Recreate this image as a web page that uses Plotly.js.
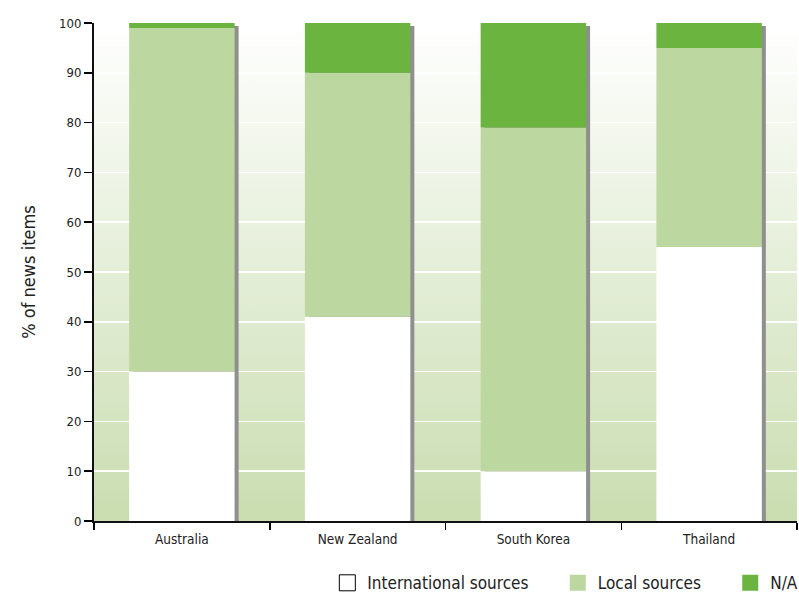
<!DOCTYPE html>
<html>
<head>
<meta charset="utf-8">
<script src="https://cdn.plot.ly/plotly-3.0.1.min.js"></script>
<style>
html,body{margin:0;padding:0;background:#fff;}
#chart{width:799px;height:593px;}
</style>
</head>
<body>
<div id="chart"></div>
<script>
const countries = ["Australia", "New Zealand", "South Korea", "Thailand"];
const international = [30, 41, 10, 55];
const local = [69, 49, 69, 40];
const na = [1, 10, 21, 5];
const seriesNames = ["International sources", "Local sources", "N/A"];
const yTicks = [0, 10, 20, 30, 40, 50, 60, 70, 80, 90, 100];

const FONT = '"DejaVu Sans Condensed", "Liberation Sans Narrow", "Liberation Sans", sans-serif';
const COL_INT = '#ffffff', COL_LOC = '#bdd7a1', COL_NA = '#6ab43f', COL_SH = '#8f8f8d';

const totals = countries.map((c, i) => international[i] + local[i] + na[i]);
const localBase = international.slice();
const naBase = countries.map((c, i) => international[i] + local[i]);

const W = 0.6;
const shadowDx = 4 / 175.75;   // 4px right
const shadowDy = 3 / 4.98;     // 3px down

const PAD = '\u00a0\u00a0\u00a0\u00a0\u00a0';

const traces = [
  { type: 'bar', x: countries, y: totals, base: countries.map(() => -shadowDy),
    width: W, offset: -W / 2 + shadowDx, marker: { color: COL_SH }, showlegend: false, hoverinfo: 'skip' },
  { type: 'bar', x: countries, y: international, base: countries.map(() => 0),
    width: W, offset: -W / 2, marker: { color: COL_INT }, name: seriesNames[0], showlegend: false },
  { type: 'bar', x: countries, y: local, base: localBase,
    width: W, offset: -W / 2, marker: { color: COL_LOC }, name: seriesNames[1], showlegend: false },
  { type: 'bar', x: countries, y: na, base: naBase,
    width: W, offset: -W / 2, marker: { color: COL_NA }, name: seriesNames[2], showlegend: false },
  // legend entries
  { type: 'scatter', mode: 'markers', x: [null], y: [null], name: seriesNames[0] + PAD,
    marker: { symbol: 'square', size: 16, color: COL_INT, line: { color: '#000', width: 1 } } },
  { type: 'scatter', mode: 'markers', x: [null], y: [null], name: seriesNames[1] + PAD,
    marker: { symbol: 'square', size: 16, color: COL_LOC, line: { width: 0 } } },
  { type: 'scatter', mode: 'markers', x: [null], y: [null], name: seriesNames[2],
    marker: { symbol: 'square', size: 16, color: COL_NA, line: { width: 0 } } }
];

const svg = '<svg xmlns="http://www.w3.org/2000/svg" width="100" height="100" preserveAspectRatio="none">' +
  '<defs><linearGradient id="g" x1="0" y1="0" x2="0" y2="1">' +
  '<stop offset="0" stop-color="#ffffff"/><stop offset="1" stop-color="#c9ddb0"/>' +
  '</linearGradient></defs><rect width="100" height="100" fill="url(#g)"/></svg>';

const layout = {
  width: 799, height: 593,
  margin: { l: 94, r: 2, t: 23, b: 72, autoexpand: false },
  paper_bgcolor: '#ffffff',
  plot_bgcolor: 'rgba(0,0,0,0)',
  barmode: 'overlay',
  font: { family: FONT, color: '#222', size: 14 },
  images: [{
    source: 'data:image/svg+xml;charset=utf-8,' + encodeURIComponent(svg),
    xref: 'paper', yref: 'paper', x: 0, y: 1, sizex: 1, sizey: 1,
    sizing: 'stretch', xanchor: 'left', yanchor: 'top', layer: 'below'
  }],
  xaxis: {
    type: 'category',
    tickson: 'boundaries',
    ticks: 'outside', ticklen: 7, tickwidth: 1.5, tickcolor: '#000',
    showline: true, linecolor: '#111', linewidth: 2,
    showgrid: false, zeroline: false,
    ticklabelstandoff: 5,
    tickfont: { family: FONT, size: 13.5, color: '#222' },
    fixedrange: true
  },
  yaxis: {
    range: [0, 100],
    tickvals: yTicks,
    ticktext: yTicks.map(String),
    ticks: 'outside', ticklen: 8, tickwidth: 1.5, tickcolor: '#000',
    showline: true, linecolor: '#111', linewidth: 2,
    showgrid: true, gridcolor: '#ffffff', gridwidth: 1.5,
    zeroline: false,
    tickfont: { family: FONT, size: 13, color: '#222' },
    title: { text: '% of news items', font: { family: FONT, size: 18, color: '#222' }, standoff: 19 },
    fixedrange: true
  },
  legend: {
    orientation: 'h', x: 1.009, xanchor: 'right', y: -0.125, yanchor: 'middle',
    font: { family: FONT, size: 17, color: '#222' },
    bgcolor: 'rgba(0,0,0,0)', itemclick: false, itemdoubleclick: false
  },
  showlegend: true
};

Plotly.newPlot('chart', traces, layout, { displayModeBar: false, staticPlot: true });
</script>
</body>
</html>
